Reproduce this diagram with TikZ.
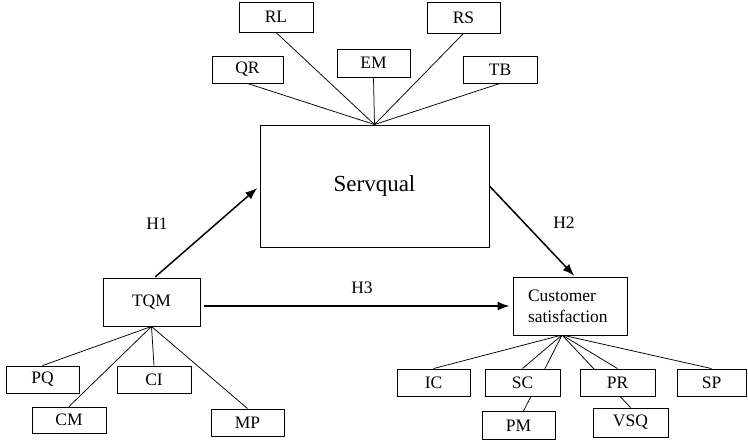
\documentclass[tikz,border=0pt]{standalone}
\usepackage{fontspec}
\setmainfont{Liberation Serif}
\usetikzlibrary{arrows.meta}
\usetikzlibrary{backgrounds}
\tikzset{box/.style = {draw, fill=white, line width=0.9pt, minimum width=73pt, minimum height=27pt, inner sep=0, font=\fontsize{17.5}{21}\selectfont}}
\tikzset{link/.style = {line width=0.75pt}}
\tikzset{arr/.style = {-{Latex[length=12pt, width=9pt]}, line width=1.5pt}}
\tikzset{hlabel/.style = {font=\fontsize{17.5}{21}\selectfont}}

\begin{document}
\begin{tikzpicture}[x=1pt, y=-1pt]
    \useasboundingbox (0,0) rectangle (748,440);
    % Servqual and its dimensions
    \node [box, minimum width=229pt, minimum height=122pt, font=\fontsize{23}{28}\selectfont] (sq) at (374.5,186) {Servqual};
    \node [box, minimum width=74pt, minimum height=30pt] (rl) at (276,17) {RL};
    \node [box, minimum height=31pt] (rs) at (463.5,17.5) {RS};
    \node [box, minimum width=71pt] (qr) at (247.5,69.5) {QR};
    \node [box, minimum height=28pt] (em) at (373.5,63) {EM};
    \node [box, minimum width=74pt] (tb) at (500,69.5) {TB};
    % TQM and its dimensions
    \node [box, minimum width=97pt, minimum height=48pt] (tqm) at (151.5,302) {TQM};
    \node [box] (pq) at (42.5,379.5) {PQ};
    \node [box, minimum width=74pt] (ci) at (154,379.5) {CI};
    \node [box, minimum width=74pt, minimum height=26pt] (cm) at (69,420) {CM};
    \node [box] (mp) at (247.5,422.5) {MP};
    % customer satisfaction and its dimensions
    \node [box, minimum width=114pt, minimum height=58pt, text width=84pt, align=left, inner xsep=15pt] (cs) at (570,306) {Customer\\satisfaction};
    \coordinate (csfan) at (562,335);
    \node [box] (ic) at (433.5,382.5) {IC};
    \node [box, minimum width=75pt] (sc) at (522.5,382.5) {SC};
    \node [box, minimum width=75pt] (pr) at (617.5,382.5) {PR};
    \node [box, minimum width=69pt] (sp) at (711.5,382.5) {SP};
    \node [box, minimum height=28pt] (pm) at (518.5,425.5) {PM};
    \node [box, minimum width=75pt, minimum height=29pt] (vsq) at (630.5,422.5) {VSQ};
    \begin{scope}[on background layer]
      \draw [link] (sq.north) -- (qr.south);
      \draw [link] (sq.north) -- (rl.south);
      \draw [link] (sq.north) -- (em.south);
      \draw [link] (sq.north) -- (rs.south);
      \draw [link] (sq.north) -- (tb.south);
      \draw [link] (tqm.south) -- (pq.north);
      \draw [link] (tqm.south) -- (cm.north);
      \draw [link] (tqm.south) -- (ci.north);
      \draw [link] (tqm.south) -- (mp.north);
      \draw [link] (csfan) -- (ic.north);
      \draw [link] (csfan) -- (sc.north);
      \draw [link] (csfan) -- ([xshift=5pt]pm.north);
      \draw [link] (csfan) -- (vsq.north);
      \draw [link] (csfan) -- (pr.north);
      \draw [link] (csfan) -- (sp.north);
    \end{scope}
    % hypotheses
    \draw [arr, shorten <=1pt, shorten >=3pt] ([xshift=3pt]tqm.north) -- (sq.west);
    \draw [arr, shorten >=1pt] (sq.east) -- ([xshift=5pt]cs.north);
    \draw [arr, shorten <=4pt, shorten >=3pt] (cs.west -| tqm.east) -- (cs.west);
    \node [hlabel] (h1) at (157,224) {H1};
    \node [hlabel] (h2) at (564,223) {H2};
    \node [hlabel] (h3) at (362,288) {H3};
\end{tikzpicture}
\end{document}
